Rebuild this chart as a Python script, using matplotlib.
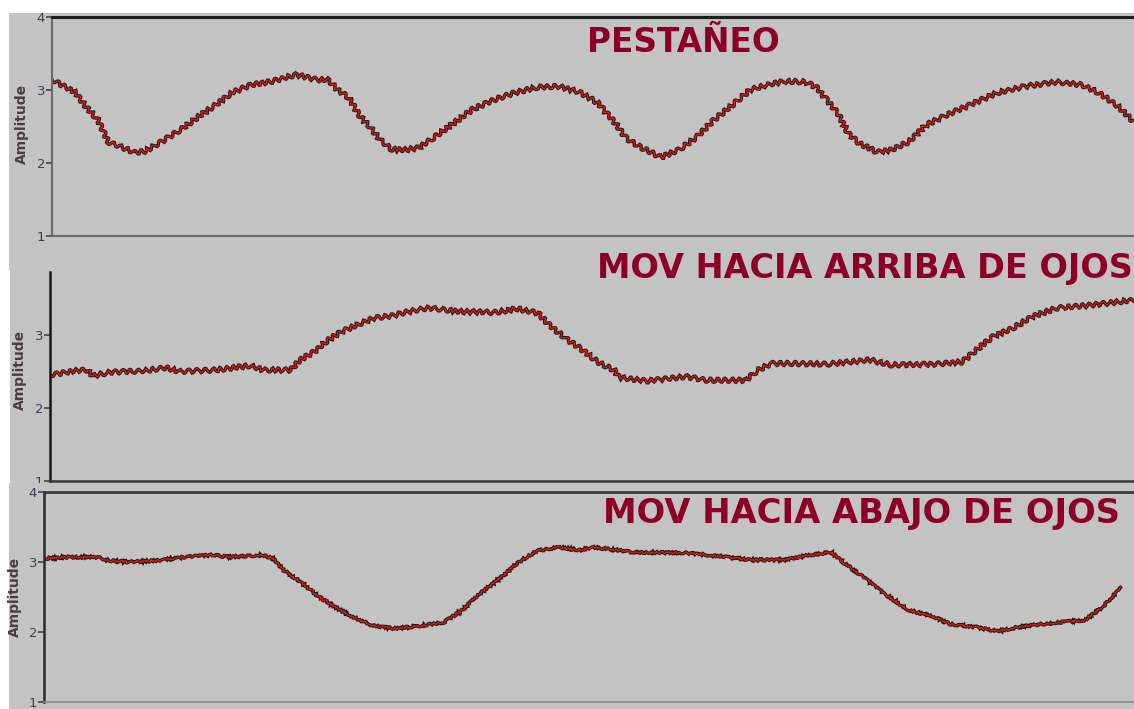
import numpy as np
import matplotlib.pyplot as plt
from matplotlib.patches import Rectangle

# values (t = samples from left axis)
t_blink = [0, 23, 34, 46, 56, 69, 83, 93, 107, 128, 146, 163, 181, 199, 220, 244, 265, 276,
           286, 297, 307, 318, 328, 339, 353, 367, 381, 402, 420, 441, 462, 486, 507, 528,
           546, 563, 574, 588, 609, 627, 645, 662, 680, 698, 715, 733, 754, 765, 775, 786,
           796, 807, 825, 839, 857, 874, 895, 917, 945, 973, 1005, 1030, 1047, 1065, 1082]
v_blink = [3.14, 2.97, 2.77, 2.59, 2.29, 2.22, 2.14, 2.16, 2.27, 2.45, 2.63, 2.79, 2.97, 3.07,
           3.12, 3.21, 3.14, 3.14, 3.00, 2.89, 2.66, 2.49, 2.32, 2.19, 2.18, 2.21, 2.34, 2.55,
           2.73, 2.86, 2.96, 3.04, 3.05, 2.97, 2.82, 2.55, 2.34, 2.22, 2.08, 2.18, 2.36, 2.59,
           2.79, 3.00, 3.07, 3.12, 3.11, 3.03, 2.86, 2.68, 2.41, 2.27, 2.15, 2.18, 2.29, 2.52,
           2.66, 2.79, 2.96, 3.05, 3.11, 3.07, 2.96, 2.79, 2.56]

t_up = [0, 25, 37, 43, 60, 95, 116, 130, 165, 200, 214, 241, 250, 264, 278, 292, 306, 323,
        341, 358, 379, 411, 446, 467, 488, 499, 516, 530, 548, 565, 569, 597, 636, 657, 696,
        707, 721, 742, 777, 820, 841, 883, 912, 926, 943, 965, 982, 1007, 1042, 1084]
v_up = [2.45, 2.51, 2.52, 2.44, 2.49, 2.51, 2.55, 2.50, 2.52, 2.58, 2.52, 2.52, 2.66, 2.77,
        2.93, 3.05, 3.13, 3.23, 3.26, 3.32, 3.37, 3.32, 3.31, 3.36, 3.30, 3.14, 2.95, 2.82,
        2.63, 2.51, 2.42, 2.37, 2.43, 2.38, 2.38, 2.51, 2.61, 2.61, 2.60, 2.66, 2.59, 2.60,
        2.63, 2.79, 2.98, 3.11, 3.25, 3.37, 3.41, 3.48]

t_down = [0, 22, 54, 65, 86, 115, 140, 168, 186, 218, 229, 240, 257, 275, 293, 311, 329, 350,
          372, 400, 418, 436, 457, 475, 493, 514, 536, 550, 589, 642, 677, 706, 741, 762, 787,
          797, 815, 840, 865, 889, 907, 932, 953, 978, 1009, 1041, 1059, 1077]
v_down = [3.05, 3.07, 3.07, 3.02, 3.00, 3.02, 3.07, 3.10, 3.07, 3.10, 3.05, 2.88, 2.71, 2.50,
          2.34, 2.20, 2.09, 2.05, 2.08, 2.14, 2.31, 2.55, 2.78, 3.00, 3.16, 3.21, 3.17, 3.21,
          3.14, 3.13, 3.08, 3.03, 3.03, 3.09, 3.14, 3.02, 2.83, 2.55, 2.31, 2.22, 2.11, 2.07,
          2.01, 2.08, 2.13, 2.17, 2.36, 2.63]

titles = ["PESTAÑEO", "MOV HACIA ARRIBA DE OJOS", "MOV HACIA ABAJO DE OJOS"]
yticks = [1, 2, 3, 4]

W, H = 1134, 709
GRAY = '#c3c3c3'
TITLE_RED = '#8c0026'


def box(l, t, r, b):
    return [l / W, 1 - b / H, (r - l) / W, (b - t) / H]


fig = plt.figure(figsize=(W / 100, H / 100), dpi=100)
fig.patch.set_facecolor('white')

# the three screenshot backgrounds
for (l, t, r, b, z) in [(9, 13, 1134, 270, -2), (10, 270, 1134, 483, -2), (9, 483, 1134, 709, 0.5)]:
    fig.add_artist(Rectangle((l / W, 1 - b / H), (r - l) / W, (b - t) / H,
                             transform=fig.transFigure, facecolor=GRAY, edgecolor='none', zorder=z))


def trace(ax, t, v, xmax, ylim, sketch):
    for c, lw in [('#1a1a1a', 2.4), ('#e2160c', 1.0)]:
        ln, = ax.plot(t, v, color=c, lw=lw, solid_joinstyle='miter')
        ln.set_sketch_params(*sketch)
    ax.set_facecolor(GRAY)
    ax.set_xticks([])
    ax.set_yticks(yticks)
    # limits after the ticks, otherwise set_yticks widens them
    ax.set_xlim(0, xmax)
    ax.set_ylim(*ylim)
    ax.tick_params(axis='y', direction='out', length=4, width=1.2, color='#444444',
                   labelsize=9.5, labelcolor='#3b4052', pad=1)
    ax.spines['right'].set_visible(False)


ax1 = fig.add_axes(box(52, 17, 1134, 236), zorder=2)
trace(ax1, t_blink, v_blink, 1082, (1, 4), (2.0, 7.5, 1.8))
ax1.spines['top'].set_color('#1e1e1e')
ax1.spines['top'].set_linewidth(2.2)
ax1.spines['left'].set_color('#6a6a6a')
ax1.spines['left'].set_linewidth(1.5)
ax1.spines['bottom'].set_color('#6a6a6a')
ax1.spines['bottom'].set_linewidth(1.5)

ax2 = fig.add_axes(box(50, 272, 1134, 481), zorder=0)
trace(ax2, t_up, v_up, 1084, (1, 1 + 209 / 73), (2.0, 7.5, 1.8))
ax2.spines['top'].set_visible(False)
ax2.spines['left'].set_color('#151515')
ax2.spines['left'].set_linewidth(1.8)
ax2.spines['bottom'].set_color('#3a3a3a')
ax2.spines['bottom'].set_linewidth(1.8)

ax3 = fig.add_axes(box(44, 492, 1134, 702), zorder=1)
trace(ax3, t_down, v_down, 1090, (1, 4), (1.0, 3, 6))
ax3.spines['top'].set_color('#3a3a3a')
ax3.spines['top'].set_linewidth(2)
ax3.spines['left'].set_color('#2a2a2a')
ax3.spines['left'].set_linewidth(1.8)
ax3.spines['bottom'].set_color('#8a8a8a')
ax3.spines['bottom'].set_linewidth(1.2)

renderer = fig.canvas.get_renderer()


def fit_text(x, y, s, width=None, height=None, **kw):
    txt = fig.text(x / W, 1 - y / H, s, zorder=5, **kw)
    ext = txt.get_window_extent(renderer)
    scale = width / ext.width if width else height / ext.height
    txt.set_fontsize(txt.get_fontsize() * scale)
    return txt


# titles: (left x, baseline y, width) in pixels
for s, (x, y, w) in zip(titles, [(587, 52, 192), (597, 278, 535), (603, 523, 517)]):
    fit_text(x, y, s, width=w, ha='left', va='baseline', fontsize=18,
             fontweight='bold', family='DejaVu Sans', color=TITLE_RED)

for (x, y) in [(22, 124), (20, 370), (15, 597)]:
    fit_text(x, y, "Amplitude", height=80, ha='center', va='center', rotation=90,
             fontsize=9, fontweight='bold', family='DejaVu Sans', color='#4a3d3d')

fig.savefig('out.png', dpi=100, facecolor='white')
